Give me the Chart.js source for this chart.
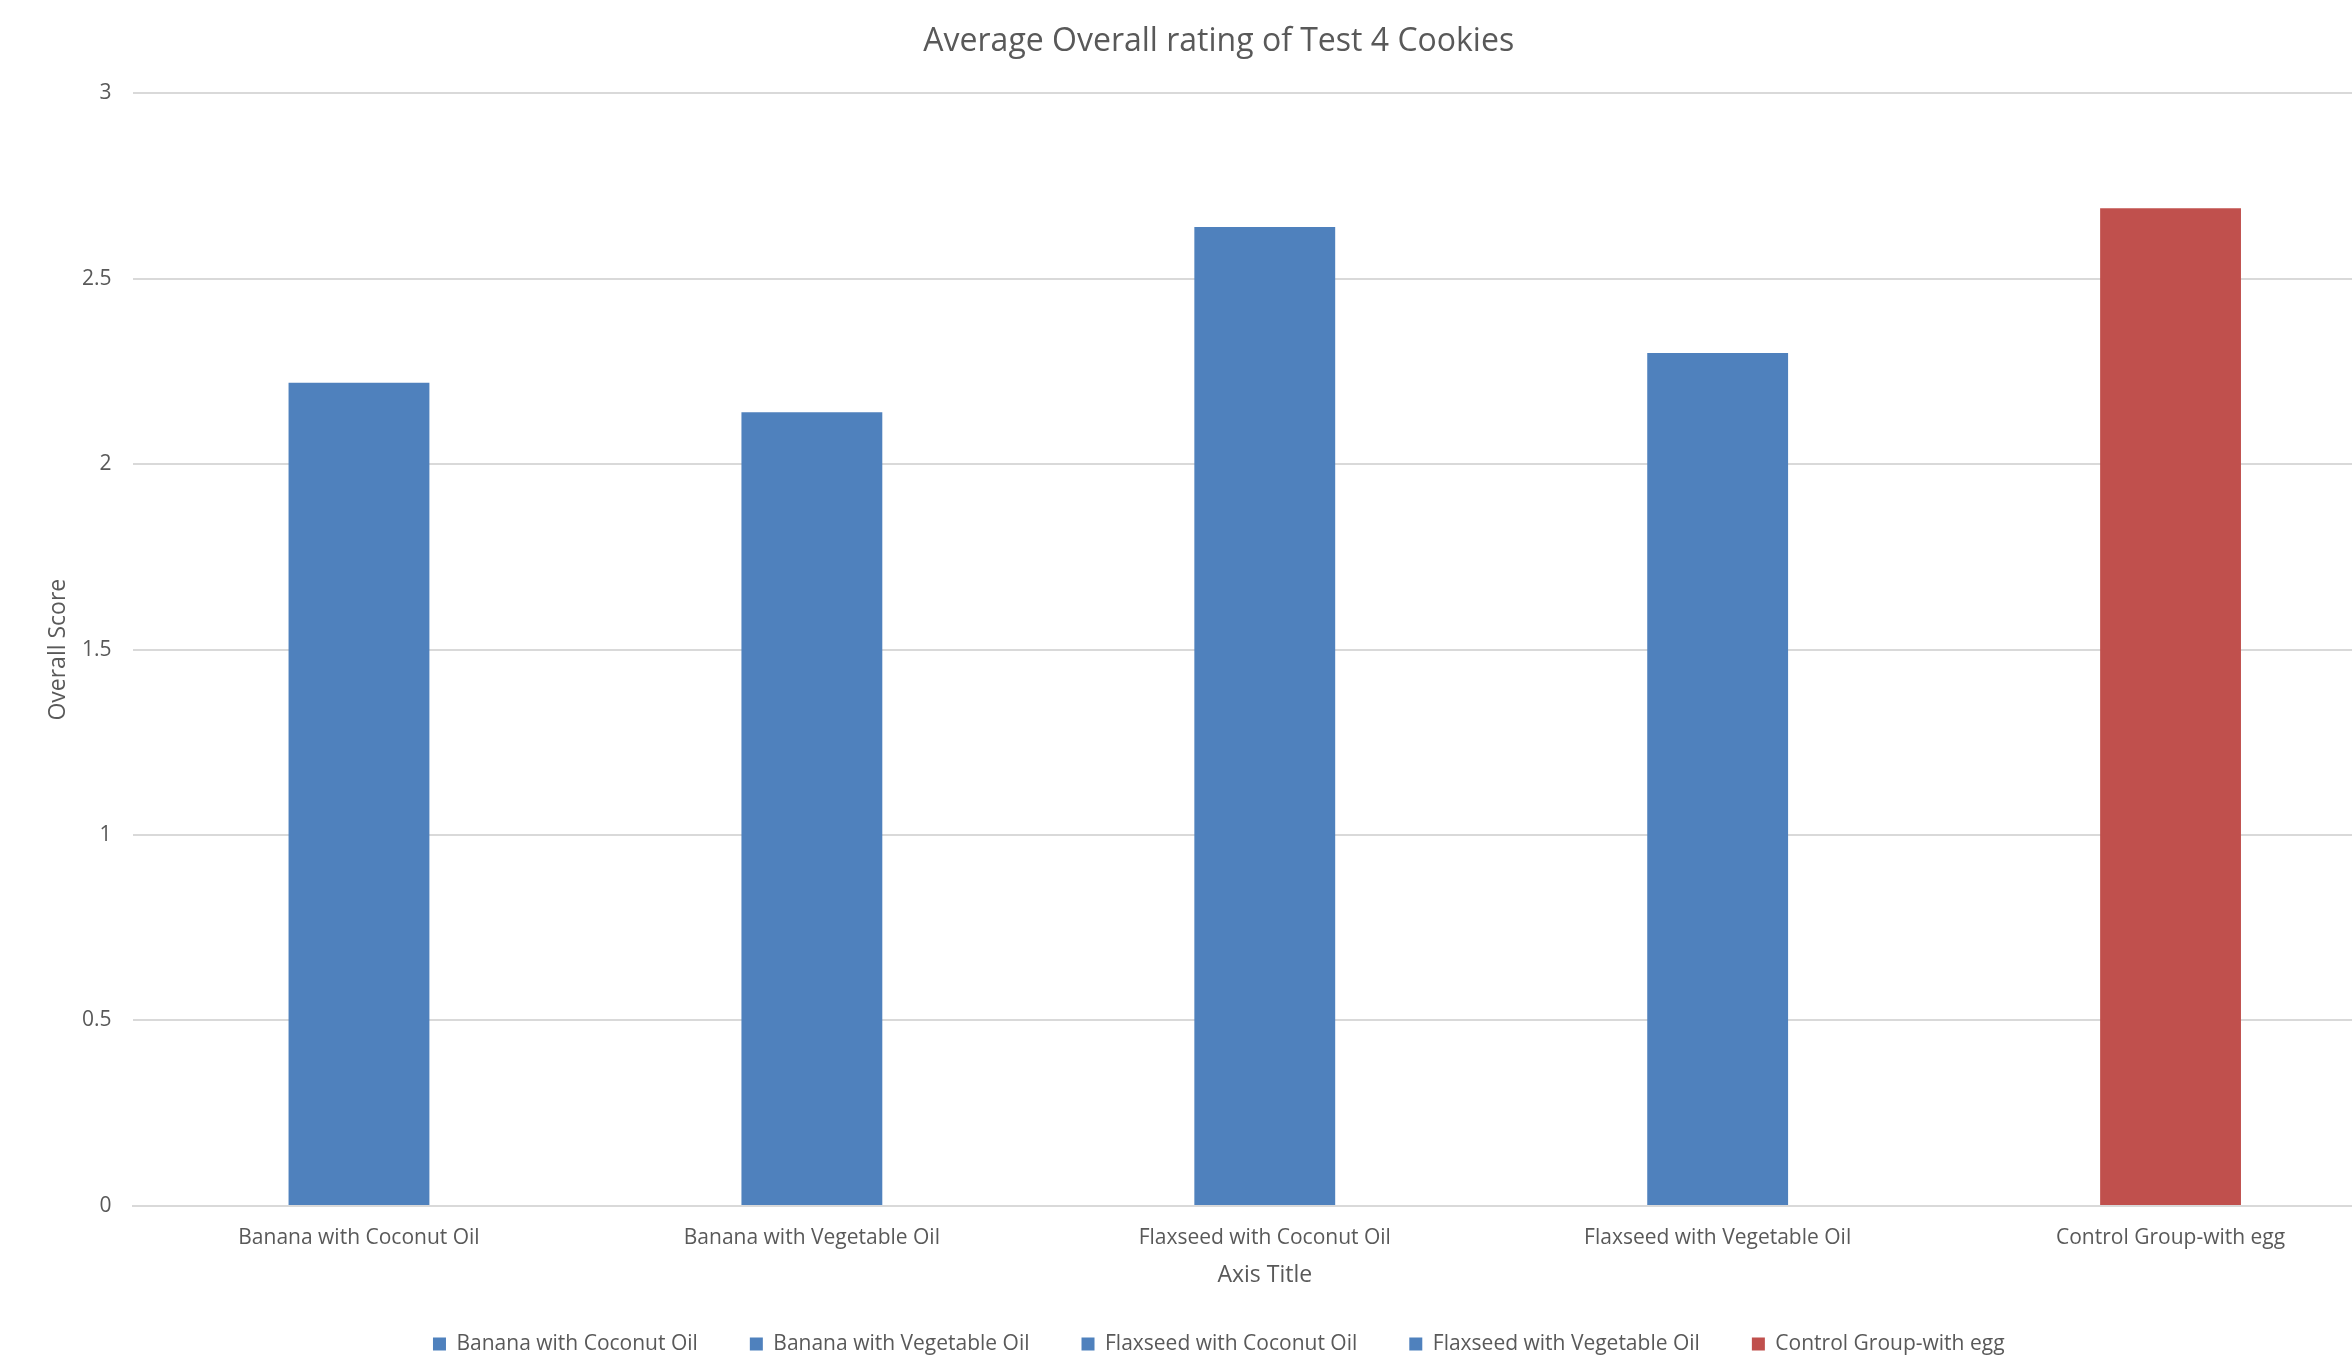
<!DOCTYPE html>
<html lang="en">
<head>
  <meta charset="UTF-8">
  <title>Average Overall rating of Test 4 Cookies</title>
  <script src="https://cdn.jsdelivr.net/npm/chart.js"></script>
  <style>
    html, body { margin: 0; padding: 0; background: #fff; overflow: hidden; }
    /* the original picture is cropped on the right, so the chart is a bit wider than the window */
    #wrap { width: 2397px; height: 1360px; }
  </style>
</head>
<body>
  <div id="wrap"><canvas id="chart"></canvas></div>
  <script>
    const categories = ['Banana with Coconut Oil', 'Banana with Vegetable Oil', 'Flaxseed with Coconut Oil', 'Flaxseed with Vegetable Oil', 'Control Group-with egg'];
    const scores = [2.22, 2.14, 2.64, 2.30, 2.69];
    const barColors = ['#4F81BD', '#4F81BD', '#4F81BD', '#4F81BD', '#C0504D'];
    const yTicks = [0, 0.5, 1, 1.5, 2, 2.5, 3];

    const textColor = '#595959';
    const fontFamily = '"Open Sans", "Noto Sans", sans-serif';

    // one series per category, like the original sheet
    const datasets = categories.map((name, i) => ({
      label: name,
      data: scores.map((v, j) => (j === i ? v : null)),
      backgroundColor: barColors[i],
      borderWidth: 0,
      barPercentage: 0.311,
      categoryPercentage: 1
    }));

    new Chart(document.getElementById('chart'), {
      type: 'bar',
      data: { labels: categories, datasets },
      options: {
        responsive: true,
        maintainAspectRatio: false,
        animation: false,
        layout: { padding: { left: 40.5, right: 0, top: 10, bottom: -4.5 } },
        plugins: {
          title: {
            display: true,
            text: 'Average Overall rating of Test 4 Cookies',
            color: textColor,
            font: { family: fontFamily, size: 32, weight: 'normal' },
            padding: { top: 13, bottom: 32 }
          },
          legend: {
            position: 'bottom',
            labels: {
              color: textColor,
              font: { family: fontFamily, size: 21 },
              boxWidth: 13,
              boxHeight: 13,
              padding: 52
            }
          },
          tooltip: { enabled: false }
        },
        scales: {
          x: {
            stacked: true,
            grid: { display: false, drawTicks: false },
            border: { color: '#D9D9D9', width: 2 },
            ticks: { color: textColor, font: { family: fontFamily, size: 21 }, padding: 20, maxRotation: 0 },
            title: { display: true, text: 'Axis Title', color: textColor, font: { family: fontFamily, size: 23 }, padding: { top: -9.9, bottom: -7.3 } }
          },
          y: {
            min: 0,
            max: 3,
            afterBuildTicks: axis => { axis.ticks = yTicks.map(v => ({ value: v })); },
            grid: { color: '#D9D9D9', lineWidth: 2, drawTicks: false },
            border: { display: false },
            ticks: { color: textColor, font: { family: fontFamily, size: 21 }, padding: 21, callback: v => String(v) },
            title: { display: true, text: 'Overall Score', color: textColor, font: { family: fontFamily, size: 23 }, padding: { top: 4, bottom: -11.1 } }
          }
        }
      }
    });
  </script>
</body>
</html>
